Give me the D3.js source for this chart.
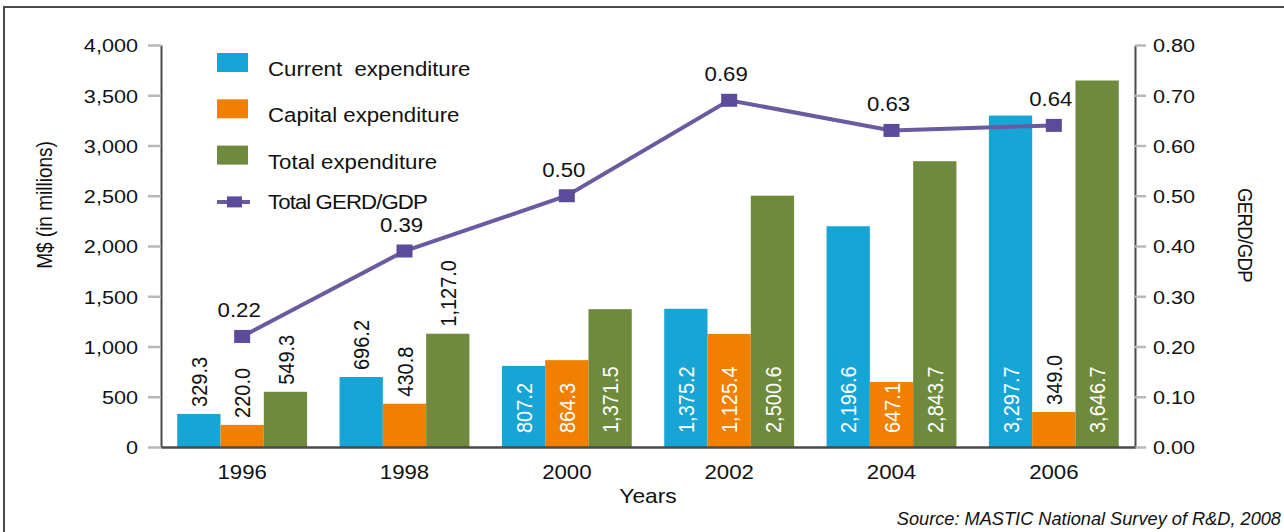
<!DOCTYPE html>
<html>
<head>
<meta charset="utf-8">
<script src="https://cdn.jsdelivr.net/npm/d3@7"></script>
<style>
  html, body { margin: 0; padding: 0; background: #fff; }
  svg { display: block; font-family: "Liberation Sans", Arial, sans-serif; }
</style>
</head>
<body>
<svg id="chart" width="1284" height="532"></svg>
<script>
// R&D expenditure by year (M$ in millions) and GERD as share of GDP
const years = ["1996", "1998", "2000", "2002", "2004", "2006"];
const currentExp = [329.3, 696.2, 807.2, 1375.2, 2196.6, 3297.7];
const capitalExp = [220.0, 430.8, 864.3, 1125.4, 647.1, 349.0];
const totalExp = [549.3, 1127.0, 1371.5, 2500.6, 2843.7, 3646.7];
const gerdGdp = [0.22, 0.39, 0.50, 0.69, 0.63, 0.64];

const leftTicks = [0, 500, 1000, 1500, 2000, 2500, 3000, 3500, 4000];
const rightTicks = [0, 0.1, 0.2, 0.3, 0.4, 0.5, 0.6, 0.7, 0.8];

const seriesNames = ["Current  expenditure", "Capital expenditure", "Total expenditure"];
const lineName = "Total GERD/GDP";
const colors = ["#17a5d6", "#f18001", "#6e8b3d"];
const lineColor = "#6a5aa0";

// text in this chart is set slightly wide
const S = 1.14;
const fmtVal = d3.format(",.1f");

const svg = d3.select("#chart");

// outer frame
svg.append("path")
  .attr("d", "M4,540 L4,7 L1290,7")
  .attr("fill", "none").attr("stroke", "#4a4a4a").attr("stroke-width", 2);

const plotL = 161, plotR = 1135, plotT = 45, plotB = 447;

const x = d3.scaleBand().domain(years).range([plotL, plotR])
  .paddingInner(0.2).paddingOuter(0.1);
const xs = d3.scaleBand().domain([0, 1, 2]).range([0, x.bandwidth()]);
const yL = d3.scaleLinear().domain([0, 4000]).range([plotB, plotT]);
const yR = d3.scaleLinear().domain([0, 0.8]).range([plotB, plotT]);

// bars
const series = [currentExp, capitalExp, totalExp];
const bars = svg.append("g");
series.forEach((vals, si) => {
  bars.selectAll(null).data(vals).enter().append("rect")
    .attr("x", (d, i) => x(years[i]) + xs(si))
    .attr("y", d => yL(d))
    .attr("width", xs.bandwidth())
    .attr("height", d => yL(0) - yL(d))
    .attr("fill", colors[si]);
});

// left axis
const axL = d3.axisLeft(yL).tickValues(leftTicks).tickFormat(d3.format(","))
  .tickSizeInner(13).tickSizeOuter(0);
const gL = svg.append("g").attr("transform", `translate(${plotL},0)`).call(axL);
gL.select(".domain").attr("stroke", "#4a4a4a").attr("stroke-width", 2);
gL.selectAll(".tick line").attr("stroke", "#b8b8b8").attr("stroke-width", 2.5);
gL.selectAll(".tick text")
  .attr("x", -23 / S).attr("dy", "0.36em")
  .attr("transform", `scale(${S},1)`)
  .attr("font-size", 19).attr("fill", "#111");

// right axis
const axR = d3.axisRight(yR).tickValues(rightTicks).tickFormat(d3.format(".2f"))
  .tickSizeInner(11).tickSizeOuter(0);
const gR = svg.append("g").attr("transform", `translate(${plotR},0)`).call(axR);
gR.select(".domain").attr("stroke", "#4a4a4a").attr("stroke-width", 2);
gR.selectAll(".tick line").attr("stroke", "#b8b8b8").attr("stroke-width", 2.5);
gR.selectAll(".tick text")
  .attr("x", 18 / S).attr("dy", "0.36em")
  .attr("transform", `scale(${S},1)`)
  .attr("font-size", 19).attr("fill", "#111");

// bottom axis
const axB = d3.axisBottom(x).tickSize(0).tickPadding(0);
const gB = svg.append("g").attr("transform", `translate(0,${plotB})`).call(axB);
gB.select(".domain").attr("stroke", "#4a4a4a").attr("stroke-width", 2.5);
gB.selectAll(".tick text")
  .attr("y", 32).attr("dy", 0)
  .attr("transform", `scale(${S},1)`)
  .attr("x", 0)
  .attr("font-size", 19.5).attr("fill", "#111");
gB.selectAll(".tick").attr("transform", d => `translate(${x(d) + x.bandwidth() / 2},0)`);

// axis titles
svg.append("text")
  .attr("transform", `translate(648,503) scale(${S},1)`)
  .attr("text-anchor", "middle").attr("font-size", 20).attr("fill", "#111")
  .text("Years");
svg.append("text")
  .attr("transform", `translate(52,205) scale(${S},1) rotate(-90)`)
  .attr("text-anchor", "middle").attr("font-size", 19).attr("fill", "#111")
  .text("M$ (in millions)");
svg.append("text")
  .attr("transform", `translate(1238,235) scale(${S},1) rotate(90)`)
  .attr("text-anchor", "middle").attr("font-size", 18.5).attr("fill", "#111")
  .attr("letter-spacing", -0.6)
  .text("GERD/GDP");

// value labels on bars: white inside the taller later bars, dark above the rest
const labels = svg.append("g");
series.forEach((vals, si) => {
  labels.selectAll(null).data(vals).enter().append("text")
    .attr("transform", (d, i) => {
      const cx = x(years[i]) + xs(si) + xs.bandwidth() / 2;
      const inside = i >= 2 && d > 400;
      const y0 = inside ? yL(0) - 14 : yL(d) - 7;
      return `translate(${cx},${y0}) scale(${S},1) rotate(-90)`;
    })
    .attr("dy", "0.36em")
    .attr("text-anchor", "start")
    .attr("font-size", 20)
    .attr("fill", (d, i) => (i >= 2 && d > 400) ? "#fff" : "#111")
    .text(d => fmtVal(d));
});

// GERD/GDP line
const cx = i => x(years[i]) + x.bandwidth() / 2;
const line = d3.line().x((d, i) => cx(i)).y(d => yR(d));
svg.append("path").datum(gerdGdp)
  .attr("d", line)
  .attr("fill", "none").attr("stroke", lineColor).attr("stroke-width", 4);
svg.append("g").selectAll("rect").data(gerdGdp).enter().append("rect")
  .attr("x", (d, i) => cx(i) - 8).attr("y", d => yR(d) - 6.5)
  .attr("width", 16).attr("height", 13)
  .attr("fill", "#5b4b9a");
svg.append("g").selectAll("text").data(gerdGdp).enter().append("text")
  .attr("transform", (d, i) => `translate(${cx(i) - 3},${yR(d) - 19}) scale(${S},1)`)
  .attr("text-anchor", "middle").attr("font-size", 19.5).attr("fill", "#111")
  .text(d => d3.format(".2f")(d));

// legend
const leg = svg.append("g");
const rowY = i => 63 + i * 46.3;
seriesNames.forEach((name, i) => {
  leg.append("rect")
    .attr("x", 217).attr("y", rowY(i) - 10).attr("width", 31).attr("height", 19)
    .attr("fill", colors[i]);
  leg.append("text")
    .attr("transform", `translate(268,${rowY(i) + 13}) scale(${S},1)`)
    .attr("font-size", 19.5).attr("fill", "#111")
    .style("white-space", "pre")
    .text(name);
});
leg.append("line")
  .attr("x1", 217).attr("x2", 250).attr("y1", rowY(3)).attr("y2", rowY(3))
  .attr("stroke", lineColor).attr("stroke-width", 4);
leg.append("rect")
  .attr("x", 227).attr("y", rowY(3) - 5.5).attr("width", 15).attr("height", 11)
  .attr("fill", "#5b4b9a");
leg.append("text")
  .attr("transform", `translate(268,${rowY(3) + 7}) scale(${S},1)`)
  .attr("font-size", 19.5).attr("fill", "#111")
  .attr("letter-spacing", -0.8)
  .text(lineName);

// source note
svg.append("text")
  .attr("transform", "translate(1281,525) scale(1.04,1)")
  .attr("text-anchor", "end")
  .attr("font-size", 17.5).attr("font-style", "italic").attr("fill", "#111")
  .text("Source: MASTIC National Survey of R&D, 2008");
</script>
</body>
</html>
